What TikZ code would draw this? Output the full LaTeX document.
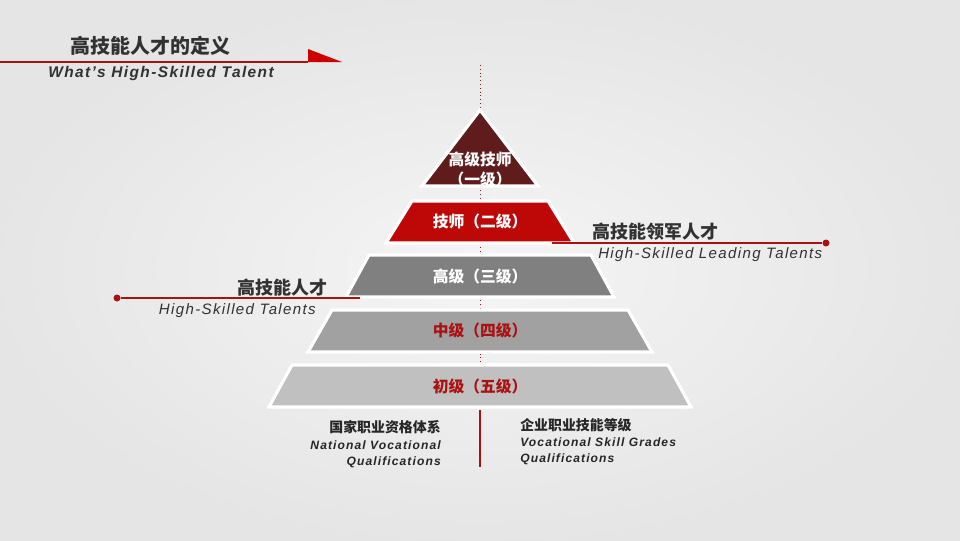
\documentclass[tikz,border=0pt]{standalone}
\usepackage{fontspec}
\setmainfont{Liberation Sans}
\newfontfamily\cjk{Noto Sans CJK SC}
\newfontfamily\enit[LetterSpace=9]{Liberation Sans}
\usepackage{tikz}

\definecolor{tierone}{RGB}{96,28,28}
\definecolor{tiertwo}{RGB}{190,8,8}
\definecolor{tierthree}{RGB}{128,128,128}
\definecolor{tierfour}{RGB}{161,161,161}
\definecolor{tierfive}{RGB}{192,192,192}
\definecolor{darkred}{RGB}{170,18,18}
\definecolor{inkgray}{RGB}{50,50,50}

\begin{document}
\begin{tikzpicture}[x=0.025cm, y=-0.025cm,
	tier/.style={draw=white, line width=2.2pt},
	tiertext/.style={font=\cjk\bfseries\fontsize{11.2}{14}\selectfont, inner sep=0pt, text=white},
	sidecjk/.style={font=\cjk\bfseries\fontsize{12.8}{15}\selectfont, inner sep=0pt, text=inkgray},
	sideeng/.style={font=\enit\itshape\fontsize{10.7}{13}\selectfont, inner sep=0pt, text=inkgray},
	footcjk/.style={font=\cjk\bfseries\fontsize{9.9}{12}\selectfont, inner sep=0pt, text=black!85},
	footeng/.style={font=\enit\bfseries\itshape\fontsize{8.6}{12}\selectfont, inner sep=0pt, text=black!85},
	reddot/.style={circle, fill=darkred, inner sep=0pt, minimum size=7*0.025cm}]
	\useasboundingbox (0,0) rectangle (960,540);
	\shade[inner color=gray!8, outer color=gray!20] (0,0) rectangle (960,540);

	% title
	\node[font=\cjk\bfseries\fontsize{14.2}{16}\selectfont, inner sep=0pt, text=inkgray, anchor=west] (title) at (70,46) {高技能人才的定义};
	\node[font=\enit\bfseries\itshape\fontsize{11}{13}\selectfont, inner sep=0pt, text=inkgray, anchor=west] (subtitle) at (48,73) {What’s High-Skilled Talent};
	\coordinate (titlestart) at (0,62);
	\coordinate (titletip) at (308,62);
	\draw[darkred, line width=1pt] (titlestart) -- (titletip);
	\fill[red!80!black] (308,49) -- (342,62) -- (titletip) -- cycle;

	% axis
	\coordinate (axistop) at (480,65);
	\coordinate (axismid) at (480,410);
	\coordinate (axisend) at (480,467);
	\draw[darkred, dotted, line width=0.7pt] (axistop) -- (axismid);
	\draw[darkred, line width=0.8pt] (axismid) -- (axisend);

	% pyramid
	\path[tier, fill=tierone] (480,110) -- (538,186) -- (422,186) -- cycle;
	\path[tier, fill=tiertwo] (412,201) -- (548,201) -- (574,243) -- (386,243) -- cycle;
	\path[tier, fill=tierthree] (369,255) -- (591,255) -- (614,297) -- (346,297) -- cycle;
	\path[tier, fill=tierfour] (332,310) -- (628,310) -- (652,352) -- (308,352) -- cycle;
	\path[tier, fill=tierfive] (292,365) -- (668,365) -- (691,407) -- (269,407) -- cycle;

	\node[tiertext] (lvlone) at (480,159) {高级技师};
	\node[tiertext] (lvlonesub) at (480,179) {（一级）};
	\node[tiertext] (lvltwo) at (480,221) {技师（二级）};
	\node[tiertext] (lvlthree) at (480,276) {高级（三级）};
	\node[tiertext, text=darkred] (lvlfour) at (480,330) {中级（四级）};
	\node[tiertext, text=darkred] (lvlfive) at (480,386) {初级（五级）};

	% leading talents
	\coordinate (leadstart) at (552,243);
	\node[reddot] (leaddot) at (826,243) {};
	\draw[darkred, line width=1.4pt] (leadstart) -- (leaddot);
	\node[sidecjk, anchor=west] (lead) at (592,232) {高技能领军人才};
	\node[sideeng, anchor=west] (leadeng) at (598,255) {High-Skilled Leading Talents};

	% skilled talents
	\coordinate (skillend) at (360,298);
	\node[reddot] (skilldot) at (117,298) {};
	\draw[darkred, line width=1.4pt] (skilldot) -- (skillend);
	\node[sidecjk, anchor=east] (skill) at (328,288) {高技能人才};
	\node[sideeng, anchor=east] (skilleng) at (316,311) {High-Skilled Talents};

	% footers
	\node[footcjk, anchor=east] (natcjk) at (441,427) {国家职业资格体系};
	\node[footeng, anchor=east] (nateng) at (441,445) {National Vocational};
	\node[footeng, anchor=east] (nateng2) at (441,462) {Qualifications};
	\node[footcjk, anchor=west] (entcjk) at (520,425) {企业职业技能等级};
	\node[footeng, anchor=west] (enteng) at (520,442) {Vocational Skill Grades};
	\node[footeng, anchor=west] (enteng2) at (520,459) {Qualifications};

\end{tikzpicture}
\end{document}
